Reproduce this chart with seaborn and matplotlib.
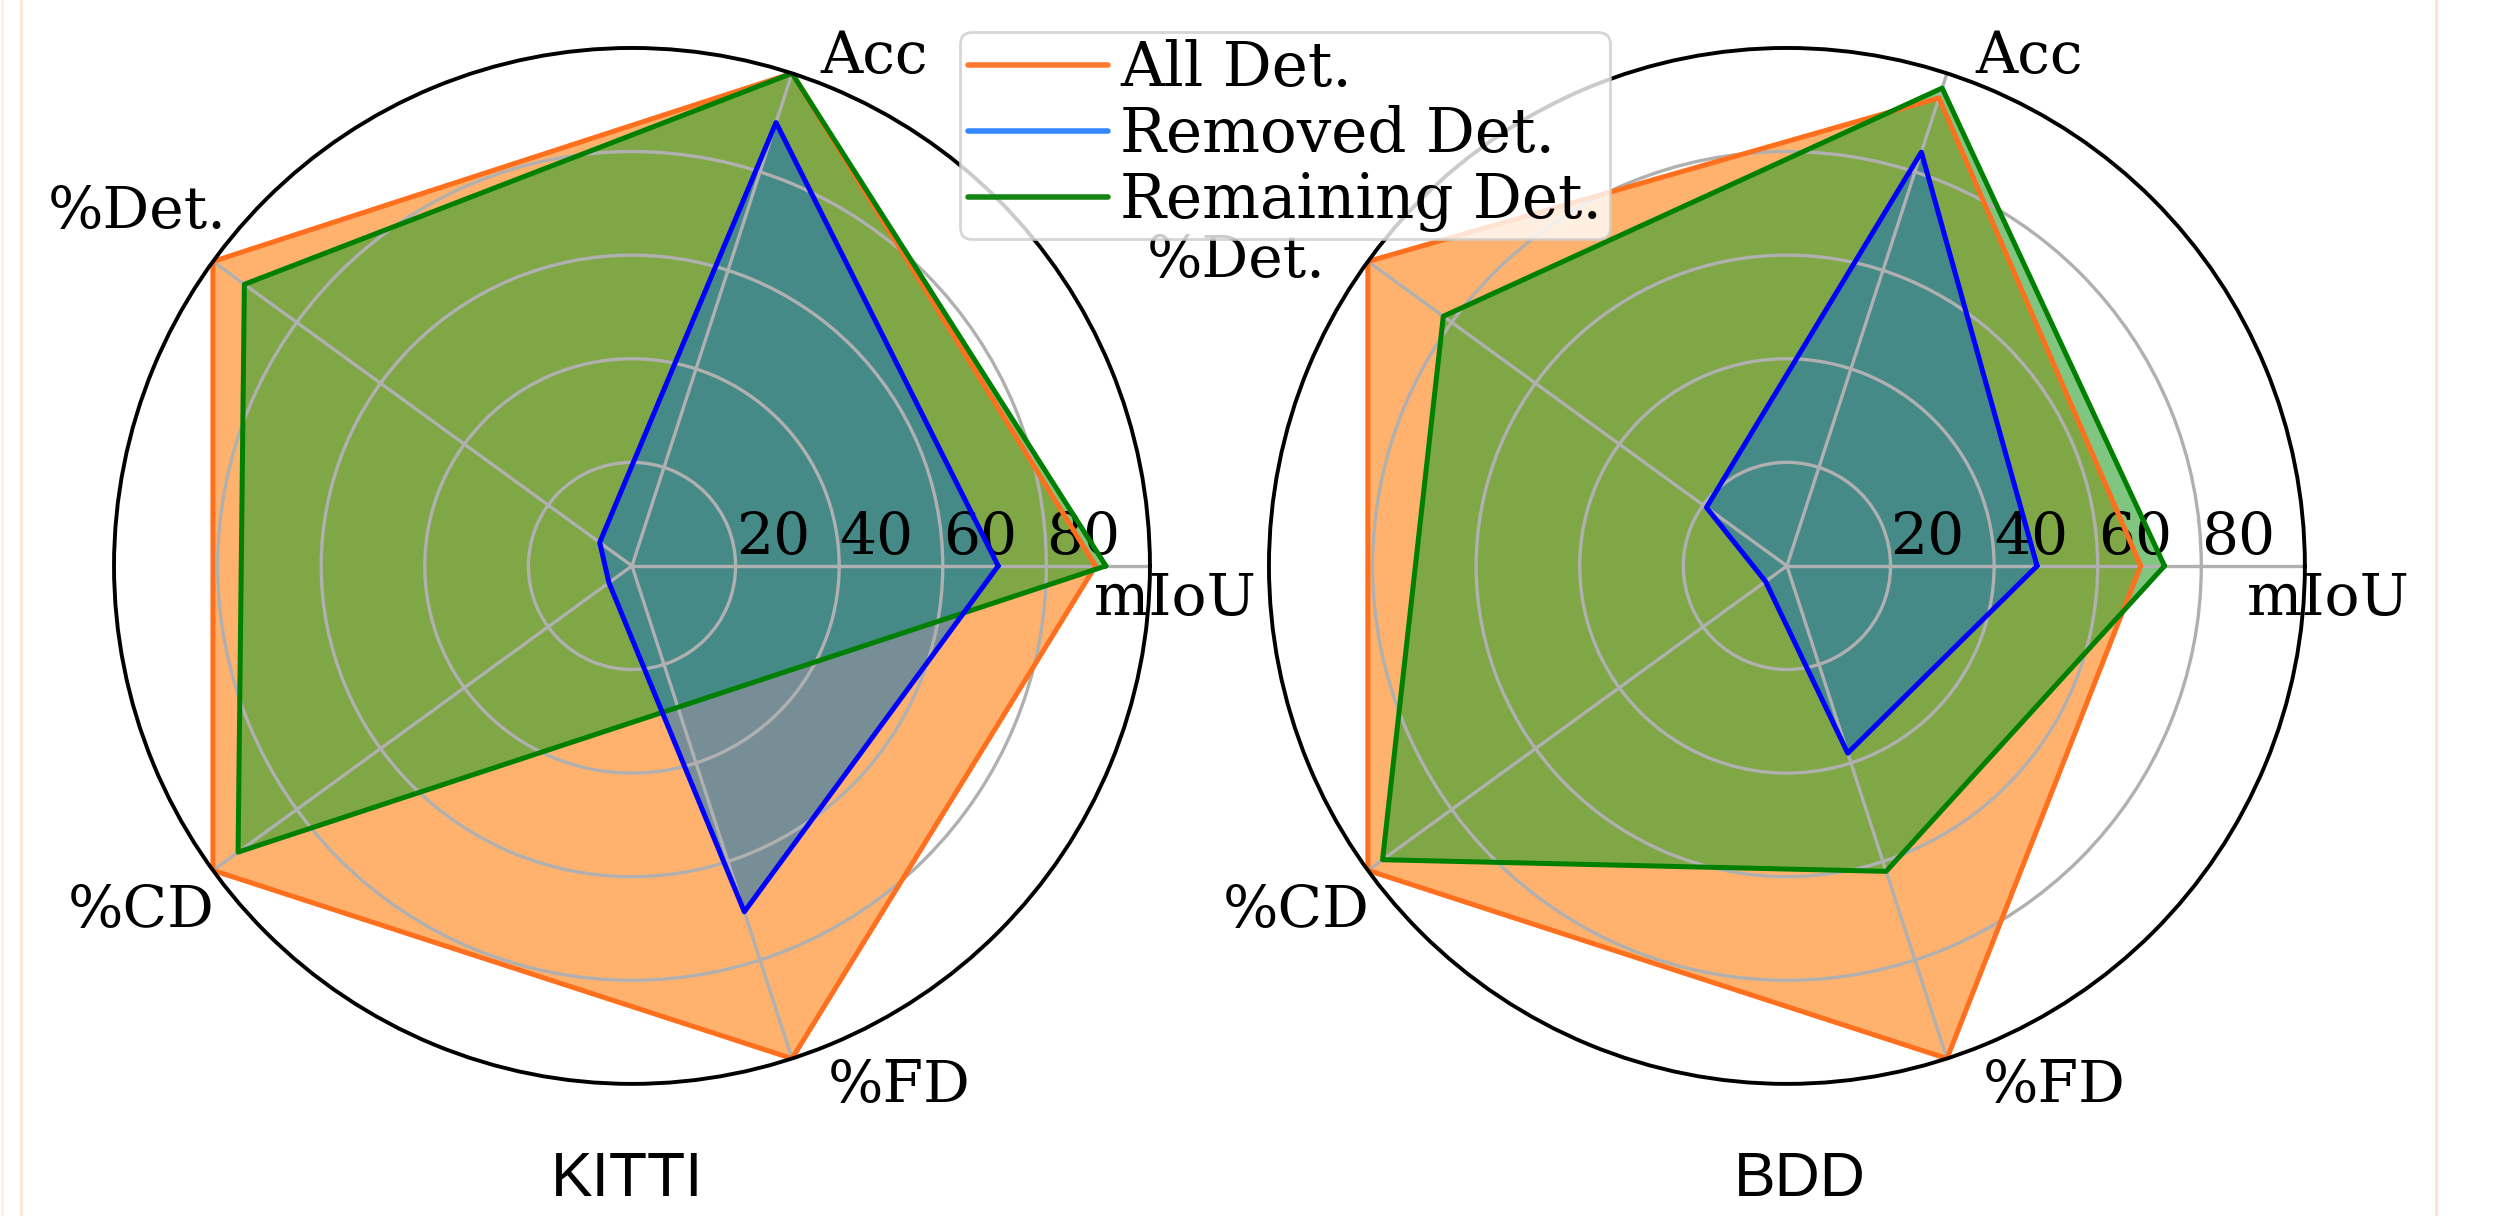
import numpy as np
import matplotlib
matplotlib.use("Agg")
import matplotlib.pyplot as plt
from matplotlib.lines import Line2D
import seaborn as sns

# ---- data -------------------------------------------------------------
metrics = ["mIoU", "Acc", "%Det.", "%CD", "%FD"]
datasets = ["KITTI", "BDD"]
series_names = ["All Det.", "Removed Det.", "Remaining Det."]

kitti_all = [89.5, 100, 100, 100, 100]
kitti_removed = [70.7, 90, 7.7, 5.5, 70.2]
kitti_remaining = [91.5, 100, 92.5, 94, 28.7]

bdd_all = [68.3, 95, 100, 100, 100]
bdd_removed = [48.3, 84, 19.2, 5.1, 38]
bdd_remaining = [72.9, 97, 82, 96.5, 62]

radial_ticks = [20, 40, 60, 80]

# ---- style ------------------------------------------------------------
sns.set_theme(style="white")
plt.rcParams["font.family"] = ["DejaVu Serif"]
plt.rcParams["axes.axisbelow"] = "line"
plt.rcParams["text.color"] = "black"
plt.rcParams["xtick.color"] = "black"
plt.rcParams["ytick.color"] = "black"

tab = sns.color_palette("tab10")
line_colors = {"all": "#ff701e", "removed": "#0000ff", "remaining": "#008000"}
fill_styles = {"all": (tab[1], 0.6), "removed": (tab[0], 0.6),
               "remaining": (tab[2], 0.6)}
legend_colors = ["#ff7a30", "#3388ff", "#138613"]

FS = 21

fig = plt.figure(figsize=(12.475, 6.08), dpi=200)

angles = np.linspace(0, 2 * np.pi, len(metrics), endpoint=False)

# label anchor points (axes fraction) for the category names
label_pos = {
    "KITTI": {"mIoU": (1.025, 0.468), "Acc": (0.734, 0.991), "%Det.": (0.022, 0.842),
              "%CD": (0.026, 0.167), "%FD": (0.758, -0.002)},
    "BDD": {"mIoU": (1.023, 0.468), "Acc": (0.734, 0.991), "%Det.": (-0.032, 0.794),
            "%CD": (0.026, 0.167), "%FD": (0.758, -0.002)},
}

panels = {
    "KITTI": ([0.0457, 0.1086, 0.4152, 0.8520], kitti_all, kitti_remaining, kitti_removed),
    "BDD": ([0.5086, 0.1086, 0.4152, 0.8520], bdd_all, bdd_remaining, bdd_removed),
}


def closed(vals):
    vals = np.asarray(vals, float)
    return np.concatenate([vals, vals[:1]])


for name, (rect, v_all, v_rem, v_rmv) in panels.items():
    ax = fig.add_axes(rect, projection="polar")
    ang_c = closed(angles)
    for key, vals in (("all", v_all), ("remaining", v_rem), ("removed", v_rmv)):
        fc, fa = fill_styles[key]
        ax.fill(angles, vals, color=fc, alpha=fa, lw=0, zorder=1)
        ax.plot(ang_c, closed(vals), color=line_colors[key], lw=1.8, zorder=2)

    ax.set_ylim(0, 100)
    ax.set_yticks(radial_ticks)
    ax.set_yticklabels([str(t) for t in radial_ticks])
    ax.set_rlabel_position(0)
    ax.tick_params(axis="y", labelsize=FS, labelcolor="black")
    ax.set_xticks(angles)
    ax.set_xticklabels([])
    ax.grid(True, color="#b0b0b0", lw=1.2)
    ax.spines["polar"].set_color("black")
    ax.spines["polar"].set_linewidth(1.4)
    ax.set_facecolor("white")

    for m in metrics:
        x, y = label_pos[name][m]
        ax.text(x, y, m, transform=ax.transAxes, ha="center", va="center",
                fontsize=FS, color="black", clip_on=False)

# dataset captions under each chart
fig.text(0.2513, 0.030, datasets[0], ha="center", va="center", fontsize=22.5,
         family=["Liberation Sans", "DejaVu Sans"], color="black")
fig.text(0.7214, 0.030, datasets[1], ha="center", va="center", fontsize=22.5,
         family=["Liberation Sans", "DejaVu Sans"], color="black")

handles = [Line2D([], [], color=c, lw=2) for c in legend_colors]
leg = fig.legend(handles, series_names, loc="upper center", bbox_to_anchor=(0.515, 0.974),
                 fontsize=22, frameon=True, fancybox=True, framealpha=0.8,
                 edgecolor="#cccccc", borderpad=0.12, labelspacing=0.1,
                 handlelength=2.3, handletextpad=0.2, borderaxespad=0.0)
for t in leg.get_texts():
    t.set_color("black")

# thin page-edge rules
for xf, col in ((0.0009, "#ffeee6"), (0.0086, "#ffe3d6"), (0.9764, "#ffe0d3")):
    fig.add_artist(Line2D([xf, xf], [0, 1], transform=fig.transFigure, color=col, lw=1.0))

fig.savefig("out.png", dpi=200, facecolor="white")
